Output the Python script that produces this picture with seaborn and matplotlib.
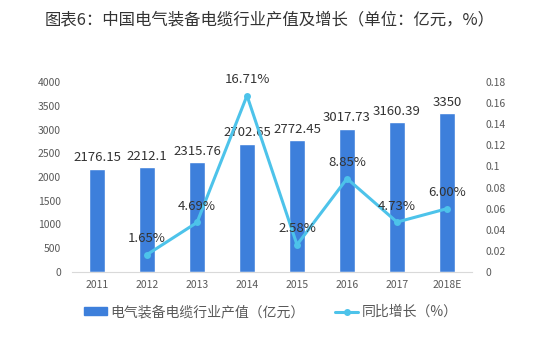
import matplotlib
matplotlib.use("Agg")
import matplotlib.pyplot as plt
import seaborn as sns
import pandas as pd
from matplotlib.lines import Line2D
from matplotlib.patches import Patch

years = ["2011", "2012", "2013", "2014", "2015", "2016", "2017", "2018E"]
output = [2176.15, 2212.1, 2315.76, 2702.65, 2772.45, 3017.73, 3160.39, 3350]
growth_years = ["2012", "2013", "2014", "2015", "2016", "2017", "2018E"]
growth = [0.0165, 0.0469, 0.1671, 0.0258, 0.0885, 0.0473, 0.0600]
growth_labels = ["1.65%", "4.69%", "16.71%", "2.58%", "8.85%", "4.73%", "6.00%"]
bar_labels = ["2176.15", "2212.1", "2315.76", "2702.65", "2772.45", "3017.73", "3160.39", "3350"]
title = "图表6：中国电气装备电缆行业产值及增长（单位：亿元，%）"
legend_bar = "电气装备电缆行业产值（亿元）"
legend_line = "同比增长（%）"

sns.set_style("white")
plt.rcParams['font.family'] = ['Noto Sans CJK SC', 'DejaVu Sans']

bar_color = "#3D7FDB"
line_color = "#4DC3EA"

fig = plt.figure(figsize=(5.48, 3.46), dpi=100)
ax = fig.add_axes([72/548, 1-272/346, 400/548, 190/346])

df = pd.DataFrame({"year": years, "output": output})
sns.barplot(data=df, x="year", y="output", color=bar_color, width=0.32,
            saturation=1, ax=ax)
ax.set_ylim(0, 4000)
ax.set_yticks(range(0, 4001, 500))
ax.set_xlim(-0.5, 7.5)
ax.set_xlabel("")
ax.set_ylabel("")
for i, v in enumerate(output):
    ax.text(i, v + 90, bar_labels[i], ha="center", va="bottom", fontsize=9.5,
            color="#333333")

ax2 = ax.twinx()
gdf = pd.DataFrame({"x": [years.index(y) for y in growth_years], "g": growth})
sns.lineplot(data=gdf, x="x", y="g", color=line_color, linewidth=2.2,
             marker="o", markersize=5, markeredgewidth=0, ax=ax2)
ax2.set_ylim(0, 0.18)
ax2.set_yticks([0, 0.02, 0.04, 0.06, 0.08, 0.1, 0.12, 0.14, 0.16, 0.18])
ax2.set_yticklabels(["0", "0.02", "0.04", "0.06", "0.08", "0.1", "0.12", "0.14", "0.16", "0.18"])
ax2.set_xlim(-0.5, 7.5)
ax2.set_xlabel("")
ax2.set_ylabel("")
for x, g, lab in zip(gdf["x"], growth, growth_labels):
    ax2.text(x, g + 0.009, lab, ha="center", va="bottom", fontsize=9.5,
             color="#333333")

for a in (ax, ax2):
    for s in a.spines.values():
        s.set_visible(False)
    a.tick_params(length=0, labelsize=7.5, colors="#595959")
ax.spines["bottom"].set_visible(True)
ax.spines["bottom"].set_color("#D9D9D9")
ax.tick_params(axis="y", pad=8)
ax2.tick_params(axis="y", pad=10)
ax.tick_params(axis="x", pad=6)

fig.text(45/548, 1-21/346, title, fontsize=11.8, color="#333333", va="center", ha="left")

handles = [Patch(color=bar_color),
           Line2D([0], [0], color=line_color, lw=2.2, marker="o", markersize=4)]
fig.legend(handles, [legend_bar, legend_line], loc="center",
           bbox_to_anchor=(271/548, 1-312/346), ncol=2, frameon=False,
           fontsize=10, labelcolor="#595959", handlelength=1.65,
           handleheight=0.45, columnspacing=2.2, handletextpad=0.25)

fig.savefig("out.png", dpi=100, facecolor="white")
